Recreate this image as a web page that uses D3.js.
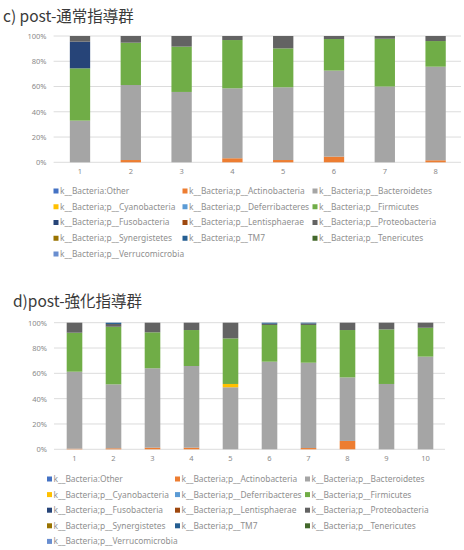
<!DOCTYPE html>
<html>
<head>
<meta charset="utf-8">
<script src="https://cdn.jsdelivr.net/npm/d3@7"></script>
<style>
  body { margin: 0; background: #fff; }
  svg text { font-family: "Noto Sans", "Noto Sans CJK JP", sans-serif; }
</style>
</head>
<body>
<svg id="chart" width="464" height="550"></svg>
<script>
// series (Excel default office palette order)
const seriesNames = [
  "k__Bacteria:Other", "k__Bacteria;p__Actinobacteria", "k__Bacteria;p__Bacteroidetes",
  "k__Bacteria;p__Cyanobacteria", "k__Bacteria;p__Deferribacteres", "k__Bacteria;p__Firmicutes",
  "k__Bacteria;p__Fusobacteria", "k__Bacteria;p__Lentisphaerae", "k__Bacteria;p__Proteobacteria",
  "k__Bacteria;p__Synergistetes", "k__Bacteria;p__TM7", "k__Bacteria;p__Tenericutes",
  "k__Bacteria;p__Verrucomicrobia"
];
const seriesColors = ["#4472c4", "#ed7d31", "#a5a5a5", "#ffc000", "#5b9bd5", "#70ad47",
  "#264478", "#9e480e", "#636363", "#997300", "#255e91", "#43682b", "#698ed0"];
const yTicks = [0, 20, 40, 60, 80, 100];

// c) post-通常指導群
const catsC = ["1", "2", "3", "4", "5", "6", "7", "8"];
const cActinobacteria = [0, 1.8, 0, 3.2, 1.8, 4.5, 0, 1.6];
const cBacteroidetes  = [33, 59.4, 55.7, 55.4, 57.6, 68.1, 60, 74.1];
const cFirmicutes     = [41.4, 33.5, 35.9, 38.2, 30.8, 25.0, 37.8, 20.3];
const cFusobacteria   = [21.1, 0, 0, 0, 0, 0, 0, 0];
const cProteobacteria = [4.5, 5.3, 8.4, 3.2, 9.8, 2.4, 2.2, 4.0];

// d)post-強化指導群
const catsD = ["1", "2", "3", "4", "5", "6", "7", "8", "9", "10"];
const dActinobacteria = [0.5, 0.8, 1.3, 1.3, 0, 0, 1, 6.6, 0, 0];
const dBacteroidetes  = [60.8, 50.5, 62.7, 64.5, 49, 69.2, 67.4, 50.2, 51.6, 73.2];
const dCyanobacteria  = [0, 0, 0, 0, 2.6, 0, 0, 0, 0, 0];
const dFirmicutes     = [30.8, 45.5, 28.4, 28.4, 36, 29, 29.8, 37.4, 43.1, 22.8];
const dProteobacteria = [7.9, 2.2, 7.6, 5.8, 12.4, 1.0, 1.2, 5.8, 5.3, 4.0];
const dTM7            = [0, 1.0, 0, 0, 0, 0.8, 0.6, 0, 0, 0];

function buildRows(cats, parts) {
  return cats.map((c, i) => {
    const row = { cat: c };
    seriesNames.forEach(s => { row[s] = parts[s] ? parts[s][i] : 0; });
    return row;
  });
}

const rowsC = buildRows(catsC, {
  "k__Bacteria;p__Actinobacteria": cActinobacteria,
  "k__Bacteria;p__Bacteroidetes": cBacteroidetes,
  "k__Bacteria;p__Firmicutes": cFirmicutes,
  "k__Bacteria;p__Fusobacteria": cFusobacteria,
  "k__Bacteria;p__Proteobacteria": cProteobacteria
});
const rowsD = buildRows(catsD, {
  "k__Bacteria;p__Actinobacteria": dActinobacteria,
  "k__Bacteria;p__Bacteroidetes": dBacteroidetes,
  "k__Bacteria;p__Cyanobacteria": dCyanobacteria,
  "k__Bacteria;p__Firmicutes": dFirmicutes,
  "k__Bacteria;p__Proteobacteria": dProteobacteria,
  "k__Bacteria;p__TM7": dTM7
});

const svg = d3.select("#chart");
const color = d3.scaleOrdinal().domain(seriesNames).range(seriesColors);

function drawPanel(opt) {
  const g = svg.append("g");

  g.append("text")
    .attr("x", opt.titleX).attr("y", opt.titleY)
    .attr("font-size", 15.5).attr("fill", "#3a3a3a")
    .style("font-family", "'Noto Sans CJK JP', sans-serif")
    .text(opt.title);

  const x = d3.scaleBand().domain(opt.cats).range([opt.left, opt.right]).paddingInner(0.6).paddingOuter(0.3);
  const y = d3.scaleLinear().domain([0, 100]).range([opt.bottom, opt.top]);

  // gridlines
  g.append("g").selectAll("line").data(yTicks).join("line")
    .attr("x1", opt.left - 1).attr("x2", opt.right)
    .attr("y1", d => y(d)).attr("y2", d => y(d))
    .attr("stroke", "#dcdcdc").attr("stroke-width", 1);

  // y axis labels
  const yAxis = g.append("g")
    .attr("transform", `translate(${opt.left - 8},0)`)
    .call(d3.axisLeft(y).tickValues(yTicks).tickSize(0).tickPadding(0).tickFormat(d => d + "%"));
  yAxis.select(".domain").remove();
  yAxis.selectAll("text").attr("font-size", 7.5).attr("fill", "#8a8a8a");

  // x axis labels
  const xAxis = g.append("g")
    .attr("transform", `translate(0,${opt.bottom + 6})`)
    .call(d3.axisBottom(x).tickSize(0).tickPadding(0));
  xAxis.select(".domain").remove();
  xAxis.selectAll("text").attr("font-size", 7.5).attr("fill", "#8a8a8a").attr("dy", "0.71em");

  const stacked = d3.stack().keys(seriesNames)(opt.rows);
  g.append("g").selectAll("g").data(stacked).join("g")
    .attr("fill", d => color(d.key))
    .selectAll("rect").data(d => d).join("rect")
    .attr("x", d => x(d.data.cat))
    .attr("width", x.bandwidth())
    .attr("y", d => y(d[1]))
    .attr("height", d => y(d[0]) - y(d[1]));

  // legend, 3 columns row-major
  const lg = g.append("g");
  seriesNames.forEach((s, i) => {
    const col = i % 3, row = Math.floor(i / 3);
    const lx = opt.legendX[col], ly = opt.legendY + row * opt.legendStep;
    lg.append("rect").attr("x", lx).attr("y", ly - 2.5).attr("width", 5).attr("height", 5)
      .attr("fill", color(s));
    lg.append("text").attr("x", lx + 6.5).attr("y", ly).attr("dy", "0.35em")
      .attr("font-size", 8.4).attr("fill", "#8f8f8f").text(s);
  });
}

drawPanel({
  title: "c) post-通常指導群", titleX: 3, titleY: 22,
  cats: catsC, rows: rowsC,
  left: 54.6, right: 461, top: 36, bottom: 162.3,
  legendX: [53.5, 182.5, 312.5], legendY: 191, legendStep: 15.75
});

drawPanel({
  title: "d)post-強化指導群", titleX: 13, titleY: 307,
  cats: catsD, rows: rowsD,
  left: 55, right: 445, top: 322.7, bottom: 449.3,
  legendX: [47, 175, 305], legendY: 479, legendStep: 15.6
});
</script>
</body>
</html>
